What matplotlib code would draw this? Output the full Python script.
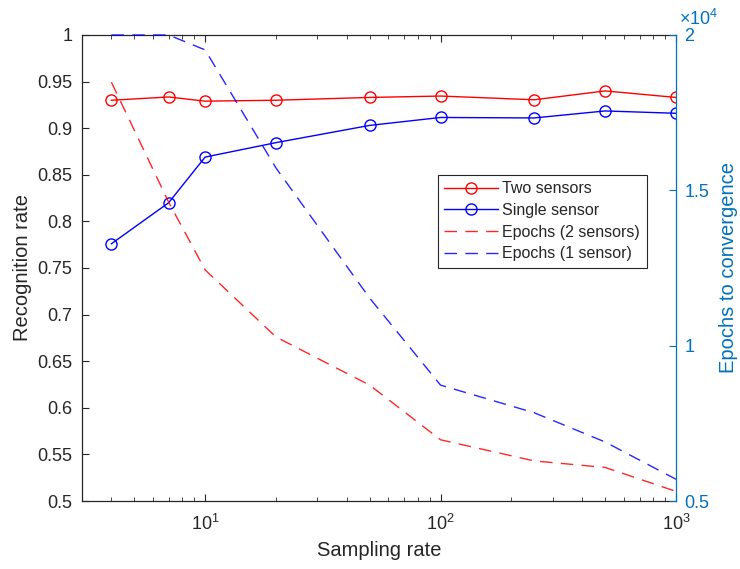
import matplotlib
matplotlib.use("Agg")
import matplotlib.pyplot as plt
from matplotlib.ticker import NullFormatter, LogLocator

plt.rcParams['font.family'] = ['Liberation Sans', 'DejaVu Sans']
plt.rcParams['mathtext.fontset'] = 'custom'
plt.rcParams['mathtext.rm'] = 'Liberation Sans'
plt.rcParams['mathtext.it'] = 'Liberation Sans:italic'
plt.rcParams['mathtext.bf'] = 'Liberation Sans:bold'

# Data
sampling_rate = [4, 7, 10, 20, 50, 100, 250, 500, 1000]
acc_two = [0.930, 0.9335, 0.929, 0.930, 0.933, 0.9345, 0.9305, 0.940, 0.933]
acc_single = [0.776, 0.820, 0.869, 0.8845, 0.903, 0.9115, 0.911, 0.9185, 0.916]
epochs_two = [18480, 14620, 12440, 10280, 8730, 6970, 6290, 6080, 5310]
epochs_single = [20000, 20000, 19520, 15720, 11530, 8730, 7840, 6900, 5700]

left_ticks = [0.5, 0.55, 0.6, 0.65, 0.7, 0.75, 0.8, 0.85, 0.9, 0.95, 1.0]
left_labels = ['0.5', '0.55', '0.6', '0.65', '0.7', '0.75', '0.8', '0.85', '0.9', '0.95', '1']
right_ticks = [5000, 10000, 15000, 20000]
right_labels = ['0.5', '1', '1.5', '2']

dark = '#262626'
axblue = '#0072BD'

fig = plt.figure(figsize=(7.4, 5.69), dpi=100)
ax = fig.add_axes([0.1108, 0.1195, 0.8027, 0.819])
ax2 = ax.twinx()

lw = 1.0
h1, = ax.plot(sampling_rate, acc_two, color='#FF0000', lw=lw, marker='o',
              ms=8, mfc='none', mew=1.0, label='Two sensors')
h2, = ax.plot(sampling_rate, acc_single, color='#0000FF', lw=lw, marker='o',
              ms=8, mfc='none', mew=1.0, label='Single sensor')
h3, = ax2.plot(sampling_rate, epochs_two, color='#FF0000', lw=lw,
               dashes=(9, 6), label='Epochs (2 sensors)', alpha=0.85,
               clip_on=False)
h4, = ax2.plot(sampling_rate, epochs_single, color='#0000FF', lw=lw,
               dashes=(9, 6), label='Epochs (1 sensor)', alpha=0.85,
               clip_on=False)

ax.set_xscale('log')
ax.set_xlim(3, 1000)
ax.set_ylim(0.5, 1.0)
ax2.set_ylim(5000, 20000)

ax.set_yticks(left_ticks)
ax.set_yticklabels(left_labels)
ax2.set_yticks(right_ticks)
ax2.set_yticklabels(right_labels)

ax.xaxis.set_major_locator(LogLocator(base=10, numticks=10))
ax.xaxis.set_minor_locator(LogLocator(base=10, subs=range(2, 10), numticks=20))
ax.xaxis.set_minor_formatter(NullFormatter())

ax.tick_params(axis='both', which='both', direction='in', colors=dark,
               labelsize=13, top=True, right=False)
ax.tick_params(axis='x', which='major', length=5, pad=9)
ax.tick_params(axis='x', which='minor', length=3)
ax.tick_params(axis='y', length=5, pad=7)
ax2.tick_params(axis='y', direction='in', colors=axblue, labelsize=13,
                length=5, pad=6)

for s in ['left', 'top', 'bottom']:
    ax.spines[s].set_color(dark)
    ax.spines[s].set_linewidth(0.9)
ax.spines['right'].set_visible(False)
for s in ['left', 'top', 'bottom']:
    ax2.spines[s].set_visible(False)
ax2.spines['right'].set_color(axblue)
ax2.spines['right'].set_linewidth(0.9)

ax.set_xlabel('Sampling rate', fontsize=14.5, color=dark, labelpad=5)
ax.set_ylabel('Recognition rate', fontsize=14.5, color=dark, labelpad=4)
ax2.set_ylabel('Epochs to convergence', fontsize=14.5, color=axblue, labelpad=7)

ax2.text(1.005, 1.012, r'$\times10^4$', transform=ax2.transAxes, color=axblue,
         fontsize=13, ha='left', va='bottom')

leg = ax2.legend(handles=[h1, h2, h3, h4], loc='upper left',
                 bbox_to_anchor=(0.599, 0.700), fontsize=11.5, frameon=True,
                 fancybox=False, edgecolor=dark, framealpha=1.0,
                 handlelength=3.4, borderpad=0.4, labelspacing=0.42,
                 handletextpad=0.25, borderaxespad=0)
leg.get_frame().set_linewidth(0.8)
for t in leg.get_texts():
    t.set_color(dark)

fig.savefig('out.png', dpi=100)
